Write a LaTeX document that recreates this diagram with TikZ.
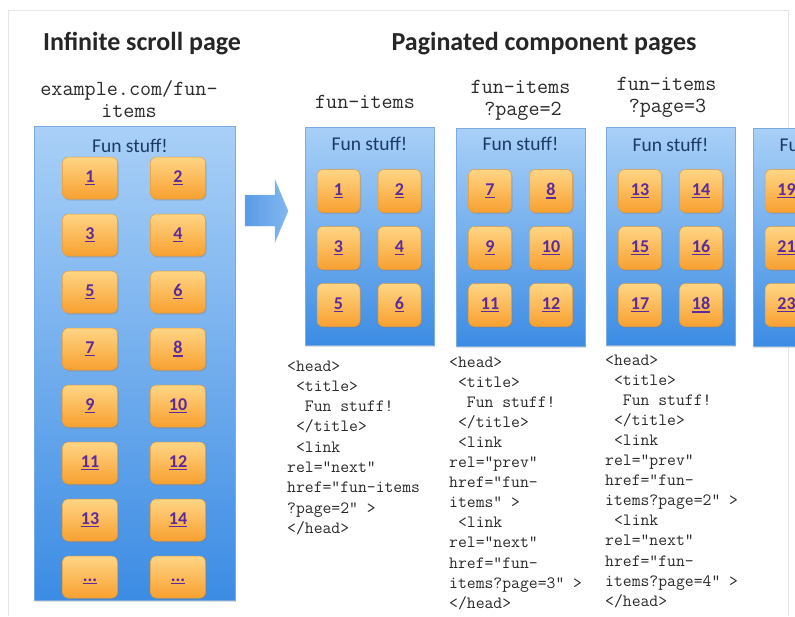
\documentclass[tikz,border=0pt]{standalone}
\usepackage{fontspec}
\setmainfont{Carlito}
\newfontfamily\monof{Latin Modern Mono}
\usetikzlibrary{shadows}
\definecolor{boxtop}{HTML}{A9D0F7}
\definecolor{boxbot}{HTML}{3C8CE4}
\definecolor{boxedge}{HTML}{7AAAE0}
\definecolor{btntop}{HTML}{FFD585}
\definecolor{btnbot}{HTML}{F8A030}
\definecolor{btnedge}{HTML}{E49A3A}
\definecolor{linkc}{HTML}{5B2A9C}
\definecolor{navy}{HTML}{1B3A66}
\definecolor{codec}{HTML}{2A2A2A}
\definecolor{arrowl}{HTML}{5B9BE5}
\definecolor{arrowr}{HTML}{80B7F0}
\newcommand\lnk[1]{\setbox0\hbox{#1}\rlap{\rule[-2.6pt]{\wd0}{1.1pt}}\box0}
\newcommand\ind{\phantom{x}}
\tikzset{
  pagebox/.style={draw=boxedge, line width=0.6pt, top color=boxtop, bottom color=boxbot, inner sep=0pt,
    drop shadow={opacity=0.25, shadow xshift=1pt, shadow yshift=-1.5pt}},
  btn/.style={draw=btnedge, line width=0.5pt, rounded corners=6pt, top color=btntop, bottom color=btnbot,
    text=linkc, font=\fontsize{18}{18}\selectfont\bfseries, inner sep=0pt,
    drop shadow={opacity=0.35, shadow xshift=1pt, shadow yshift=-1.5pt}},
  bigbtn/.style={btn, minimum width=55pt, minimum height=42pt},
  smallbtn/.style={btn, minimum width=43pt, minimum height=43pt},
  titletext/.style={font=\fontsize{26}{30}\selectfont\bfseries, text=black!85, anchor=base, inner sep=0pt},
  urllabel/.style={font=\monof\fontsize{21.5}{24}\selectfont, text=codec, anchor=base, inner sep=0pt},
  funlabel/.style={font=\fontsize{19.5}{22}\selectfont, text=navy, anchor=base, inner sep=0pt},
  codeline/.style={font=\monof\fontsize{17.2}{19}\selectfont, text=codec, anchor=base west, inner sep=0pt},
}
\begin{document}
\begin{tikzpicture}[x=1pt,y=-1pt]
\useasboundingbox (0,0) rectangle (795,616);
\fill[white] (0,0) rectangle (795,616);
\begin{scope}
\clip (0,0) rectangle (795,616);
% slide frame
\draw[gray!20, line width=0.8pt] (8,616) -- (8,10) -- (788,10) -- (788,616);

% titles
\node[titletext] (t1) at (142,50) {Infinite scroll page};
\node[titletext] (t2) at (544,50) {Paginated component pages};

% left infinite scroll page
\node[urllabel] (u0a) at (129,95) {example.com/fun-};
\node[urllabel] (u0b) at (129,117) {items};
\node[pagebox, minimum width=201pt, minimum height=474pt] (big) at (134.5,363) {};
\node[funlabel] (f0) at (130,152) {Fun stuff!};
\foreach \n [count=\i from 0] in {1,...,14} {
  \pgfmathtruncatemacro\r{int(\i/2)}
  \pgfmathtruncatemacro\c{mod(\i,2)}
  \node[bigbtn] (l\n) at ({90+88*\c},{178+57*\r}) {\lnk{\n}};
}
\node[bigbtn] (ldotsa) at (90,577) {\lnk{\vphantom{1}...}};
\node[bigbtn] (ldotsb) at (178,577) {\lnk{\vphantom{1}...}};

% block arrow
\shade[left color=arrowl, right color=arrowr, draw=arrowl!70!white, line width=0.4pt]
  (245,195) -- (275,195) -- (275,180) -- (288,211) -- (275,242) -- (275,226) -- (245,226) -- cycle;

% paginated pages labels
\node[urllabel] (u1) at (365,108) {fun-items};
\node[urllabel] (u2a) at (520.5,93) {fun-items};
\node[urllabel] (u2b) at (523,115) {?page=2};
\node[urllabel] (u3a) at (666.5,90) {fun-items};
\node[urllabel] (u3b) at (667.5,112) {?page=3};

% page boxes
\node[pagebox, minimum width=129pt, minimum height=218pt] (p1) at (369.5,236) {};
\node[pagebox, minimum width=129pt, minimum height=218pt] (p2) at (520.5,237.5) {};
\node[pagebox, minimum width=129pt, minimum height=218pt] (p3) at (670.5,236.5) {};
\node[pagebox, minimum width=129pt, minimum height=218pt] (p4) at (817.5,237) {};
\node[funlabel] (f1) at (369.5,150) {Fun stuff!};
\node[funlabel] (f2) at (520.5,150) {Fun stuff!};
\node[funlabel] (f3) at (670.5,151) {Fun stuff!};
\node[funlabel] (f4) at (817.5,151) {Fun stuff!};

% page buttons
\foreach \px/\start [count=\k] in {338.5/1, 490/7, 640/13, 786.5/19} {
  \foreach \j in {0,...,5} {
    \pgfmathtruncatemacro\r{int(\j/2)}
    \pgfmathtruncatemacro\c{mod(\j,2)}
    \pgfmathtruncatemacro\n{\start+\j}
    \node[smallbtn] (b\k-\n) at ({\px+61*\c},{191+57*\r}) {\lnk{\n}};
  }
}

% code blocks
\foreach \t [count=\i] in {{<head>},{\ind<title>},{\ind\ind Fun stuff!},{\ind</title>},{\ind<link},
  {rel=“next”},{href=“fun-items},{?page=2” >},{</head>}} {
  \node[codeline] (c1-\i) at (287,{371+20.3*(\i-1)}) {\t};
}
\foreach \t [count=\i] in {{<head>},{\ind<title>},{\ind\ind Fun stuff!},{\ind</title>},{\ind<link},
  {rel=“prev”},{href=“fun-},{items” >},{\ind<link},{rel=“next”},{href=“fun-},{items?page=3” >},{</head>}} {
  \node[codeline] (c2-\i) at (449,{367+20.1*(\i-1)}) {\t};
}
\foreach \t [count=\i] in {{<head>},{\ind<title>},{\ind\ind Fun stuff!},{\ind</title>},{\ind<link},
  {rel=“prev”},{href=“fun-},{items?page=2” >},{\ind<link},{rel=“next”},{href=“fun-},{items?page=4” >},{</head>}} {
  \node[codeline] (c3-\i) at (605,{365+20.1*(\i-1)}) {\t};
}
\end{scope}
\end{tikzpicture}
\end{document}
